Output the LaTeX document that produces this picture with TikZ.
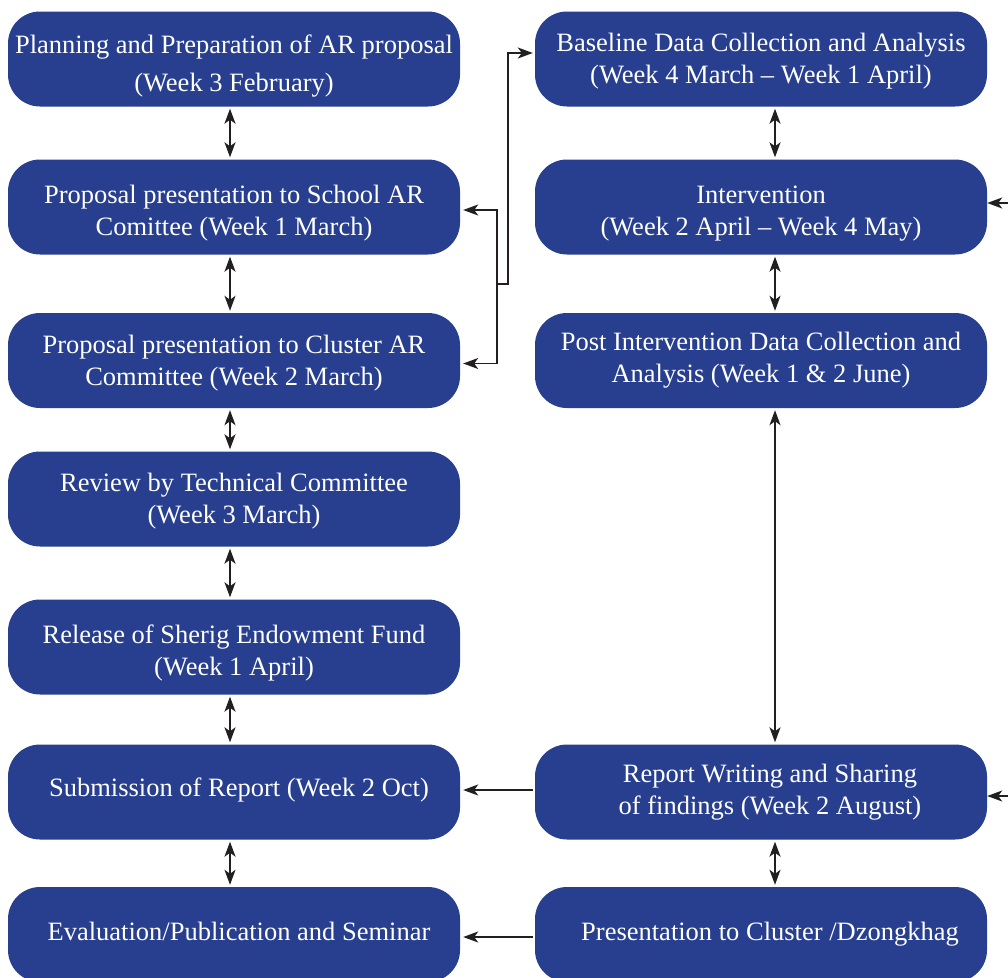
\documentclass[tikz,border=0pt]{standalone}
\usepackage{fontspec}
\setmainfont{Liberation Serif}
\usetikzlibrary{arrows.meta}
\definecolor{boxblue}{RGB}{39,63,142}
\definecolor{ink}{RGB}{35,31,32}
% a taller first line pushes the text block a little lower in its box
\newcommand\topgap[1]{\rule{0pt}{#1}}
\newcommand\indentby[1]{\hspace*{#1}}
\tikzset{
  stage/.style={fill=boxblue, rounded corners=32pt, minimum width=452pt,
    minimum height=95pt, text=white, align=center, inner sep=0pt,
    font=\fontsize{26.5}{32}\selectfont},
  lift/.style={execute at end node={\rule[-#1]{0pt}{0pt}}},
  link/.style={line width=1.6pt, draw=ink,
    -{Stealth[length=15pt,width=11pt,inset=4pt]}},
  both/.style={line width=1.6pt, draw=ink,
    {Stealth[length=15pt,width=11pt,inset=4pt]}-{Stealth[length=15pt,width=11pt,inset=4pt]},
    shorten <=2pt, shorten >=2pt},
}
\begin{document}
\begin{tikzpicture}[x=1pt,y=-1pt]
\useasboundingbox (0,0) rectangle (1008,977);

% left column
\node[stage] (b1) at (234,59)    {\topgap{32pt}Planning and Preparation of AR proposal\\[6pt](Week 3 February)};
\node[stage] (b2) at (234,207)   {\topgap{30pt}Proposal presentation to School AR\\Comittee (Week 1 March)};
\node[stage] (b3) at (234,360.5) {\topgap{24pt}Proposal presentation to Cluster AR\\Committee (Week 2 March)};
\node[stage] (b4) at (234,499)   {\topgap{22pt}Review by Technical Committee\\(Week 3 March)};
\node[stage] (b5) at (234,647)   {\topgap{30pt}Release of Sherig Endowment Fund\\(Week 1 April)};
\node[stage, lift=10pt] (b6) at (234,792)   {\indentby{10pt}Submission of Report (Week 2 Oct)};
\node[stage, lift=7pt]  (b7) at (234,934.5) {\indentby{10pt}Evaluation/Publication and Seminar};

% right column
\node[stage] (r1) at (761,59)    {\topgap{23pt}Baseline Data Collection and Analysis\\(Week 4 March -- Week 1 April)};
\node[stage] (r2) at (761,207)   {\topgap{30pt}Intervention\\(Week 2 April -- Week 4 May)};
\node[stage] (r3) at (761,360.5) {Post Intervention Data Collection and\\Analysis (Week 1 \& 2 June)};
\node[stage] (r4) at (761,792)   {\indentby{18pt}Report Writing and Sharing\\\indentby{18pt}of findings (Week 2 August)};
\node[stage] (r5) at (761,934.5) {\indentby{18pt}Presentation to Cluster /Dzongkhag};

% left column links
\foreach \u/\v in {b1/b2,b2/b3,b3/b4,b4/b5,b5/b6,b6/b7}
  \draw[both] ([xshift=-4pt]\u.south) -- ([xshift=-4pt]\v.north);

% right column links
\foreach \u/\v in {r1/r2,r2/r3,r3/r4,r4/r5}
  \draw[both] ([xshift=14pt]\u.south) -- ([xshift=14pt]\v.north);

% committee junction feeding the baseline stage
\coordinate (j) at (497,284);
\draw[link, shorten >=3pt] (j) |- ([yshift=-3pt]b2.east);
\draw[link, shorten >=3pt] (j) |- ([yshift=-3pt]b3.east);
\draw[link, shorten >=2pt] (j) -- ++(11,0) |- ([yshift=6pt]r1.west);

% incoming links on the right margin
\coordinate (in1) at (1008,203);
\coordinate (in2) at (1008,796);
\draw[link] (in1) -- ([yshift=4pt]r2.east);
\draw[link] (in2) -- ([yshift=-4pt]r4.east);

% reporting links towards the left column
\draw[link, shorten <=2pt, shorten >=3pt] ([yshift=2pt]r4.west) -- ([yshift=2pt]b6.east);
\draw[link, shorten <=2pt, shorten >=3pt] ([yshift=-2.5pt]r5.west) -- ([yshift=-2.5pt]b7.east);
\end{tikzpicture}
\end{document}
